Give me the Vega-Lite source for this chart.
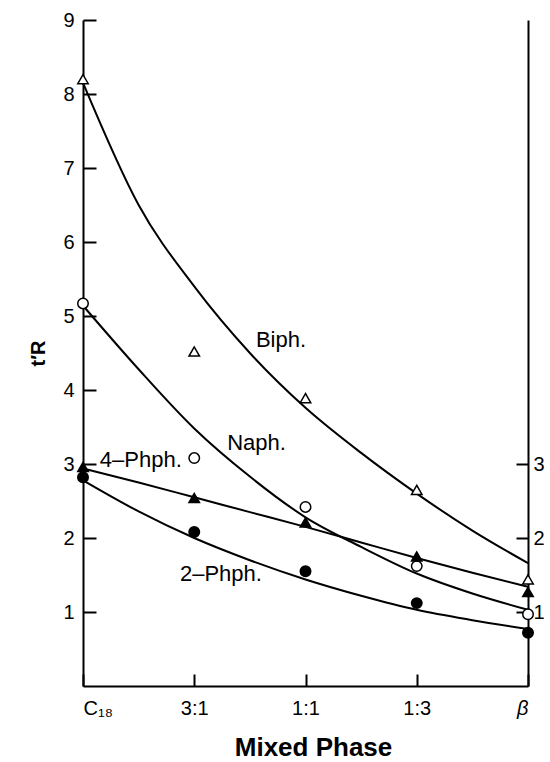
{
  "$schema": "https://vega.github.io/schema/vega-lite/v6.json",
  "autosize": "none",
  "width": 445,
  "height": 666,
  "padding": {"left": 83, "top": 20, "right": 22, "bottom": 76},
  "background": "white",
  "config": {
    "view": {"stroke": null},
    "font": "Liberation Sans",
    "axis": {"grid": false, "domainColor": "black", "domainWidth": 2, "tickColor": "black", "tickWidth": 2, "labelColor": "black", "titleColor": "black", "labelFont": "Liberation Sans", "titleFont": "Liberation Sans"}
  },
  "datasets": {
    "curves": [
      {"series": "Biph", "u": 0, "t": 8.15}, {"series": "Biph", "u": 0.5, "t": 6.5}, {"series": "Biph", "u": 1, "t": 5.4}, {"series": "Biph", "u": 1.5, "t": 4.5}, {"series": "Biph", "u": 2, "t": 3.76}, {"series": "Biph", "u": 2.5, "t": 3.15}, {"series": "Biph", "u": 3, "t": 2.6}, {"series": "Biph", "u": 3.5, "t": 2.1}, {"series": "Biph", "u": 4, "t": 1.66},
      {"series": "Naph", "u": 0, "t": 5.14}, {"series": "Naph", "u": 0.5, "t": 4.28}, {"series": "Naph", "u": 1, "t": 3.48}, {"series": "Naph", "u": 1.5, "t": 2.83}, {"series": "Naph", "u": 2, "t": 2.28}, {"series": "Naph", "u": 2.5, "t": 1.88}, {"series": "Naph", "u": 3, "t": 1.52}, {"series": "Naph", "u": 3.5, "t": 1.25}, {"series": "Naph", "u": 4, "t": 1.03},
      {"series": "4-Phph", "u": 0, "t": 2.94}, {"series": "4-Phph", "u": 0.5, "t": 2.75}, {"series": "4-Phph", "u": 1, "t": 2.55}, {"series": "4-Phph", "u": 1.5, "t": 2.35}, {"series": "4-Phph", "u": 2, "t": 2.15}, {"series": "4-Phph", "u": 2.5, "t": 1.94}, {"series": "4-Phph", "u": 3, "t": 1.73}, {"series": "4-Phph", "u": 3.5, "t": 1.53}, {"series": "4-Phph", "u": 4, "t": 1.34},
      {"series": "2-Phph", "u": 0, "t": 2.78}, {"series": "2-Phph", "u": 0.5, "t": 2.36}, {"series": "2-Phph", "u": 1, "t": 2.0}, {"series": "2-Phph", "u": 1.5, "t": 1.7}, {"series": "2-Phph", "u": 2, "t": 1.44}, {"series": "2-Phph", "u": 2.5, "t": 1.22}, {"series": "2-Phph", "u": 3, "t": 1.03}, {"series": "2-Phph", "u": 3.5, "t": 0.89}, {"series": "2-Phph", "u": 4, "t": 0.77}
    ],
    "points": [
      {"series": "Biph", "u": 0, "t": 8.2}, {"series": "Biph", "u": 1, "t": 4.52}, {"series": "Biph", "u": 2, "t": 3.89}, {"series": "Biph", "u": 3, "t": 2.65}, {"series": "Biph", "u": 4, "t": 1.44},
      {"series": "Naph", "u": 0, "t": 5.17}, {"series": "Naph", "u": 1, "t": 3.08}, {"series": "Naph", "u": 2, "t": 2.42}, {"series": "Naph", "u": 3, "t": 1.62}, {"series": "Naph", "u": 4, "t": 0.97},
      {"series": "4-Phph", "u": 0, "t": 2.96}, {"series": "4-Phph", "u": 1, "t": 2.54}, {"series": "4-Phph", "u": 2, "t": 2.21}, {"series": "4-Phph", "u": 3, "t": 1.75}, {"series": "4-Phph", "u": 4, "t": 1.27},
      {"series": "2-Phph", "u": 0, "t": 2.82}, {"series": "2-Phph", "u": 1, "t": 2.08}, {"series": "2-Phph", "u": 2, "t": 1.55}, {"series": "2-Phph", "u": 3, "t": 1.12}, {"series": "2-Phph", "u": 4, "t": 0.72}
    ],
    "labels": [
      {"label": "Biph.", "u": 1.78, "t": 4.67},
      {"label": "Naph.", "u": 1.56, "t": 3.28},
      {"label": "4–Phph.", "u": 0.52, "t": 3.05},
      {"label": "2–Phph.", "u": 1.24, "t": 1.52}
    ]
  },
  "resolve": {"axis": {"y": "independent"}},
  "layer": [
    {
      "data": {"name": "curves"},
      "mark": {"type": "line", "interpolate": "monotone", "color": "black", "strokeWidth": 2},
      "encoding": {
        "x": {"field": "u", "type": "quantitative", "scale": {"domain": [0, 4], "nice": false},
          "axis": {"values": [0, 1, 2, 3, 4], "tickSize": -12, "labelPadding": 24, "labelFontSize": 20,
            "labelExpr": "['C₁₈','3:1','1:1','1:3','β'][datum.value]",
            "labelFontStyle": {"condition": {"test": "datum.value == 4", "value": "italic"}, "value": "normal"},
            "title": "Mixed Phase", "titleFontSize": 26, "titleFontWeight": "bold", "titlePadding": 16,
            "titleX": 230, "titleAlign": "center"}},
        "y": {"field": "t", "type": "quantitative", "scale": {"domain": [0, 9], "nice": false},
          "axis": {"orient": "left", "values": [1, 2, 3, 4, 5, 6, 7, 8, 9], "tickSize": -13, "labelPadding": 22, "labelFontSize": 20,
            "title": "t′R", "titleFontSize": 20, "titleFontWeight": "bold", "titlePadding": 14}},
        "detail": {"field": "series"}
      }
    },
    {
      "data": {"name": "points"},
      "mark": {"type": "point", "stroke": "black", "strokeWidth": 1.5, "opacity": 1, "size": 110},
      "encoding": {
        "x": {"field": "u", "type": "quantitative"},
        "y": {"field": "t", "type": "quantitative",
          "axis": {"orient": "right", "values": [1, 2, 3], "tickSize": -12, "labelPadding": 17, "labelFontSize": 20, "title": null}},
        "shape": {"field": "series", "type": "nominal", "legend": null,
          "scale": {"domain": ["Biph", "Naph", "4-Phph", "2-Phph"], "range": ["triangle-up", "circle", "triangle-up", "circle"]}},
        "fill": {"field": "series", "type": "nominal", "legend": null,
          "scale": {"domain": ["Biph", "Naph", "4-Phph", "2-Phph"], "range": ["white", "white", "black", "black"]}}
      }
    },
    {
      "data": {"name": "labels"},
      "mark": {"type": "text", "fontSize": 22, "font": "Liberation Sans", "color": "black", "align": "center", "baseline": "middle"},
      "encoding": {
        "x": {"field": "u", "type": "quantitative"},
        "y": {"field": "t", "type": "quantitative", "axis": null},
        "text": {"field": "label"}
      }
    }
  ]
}
